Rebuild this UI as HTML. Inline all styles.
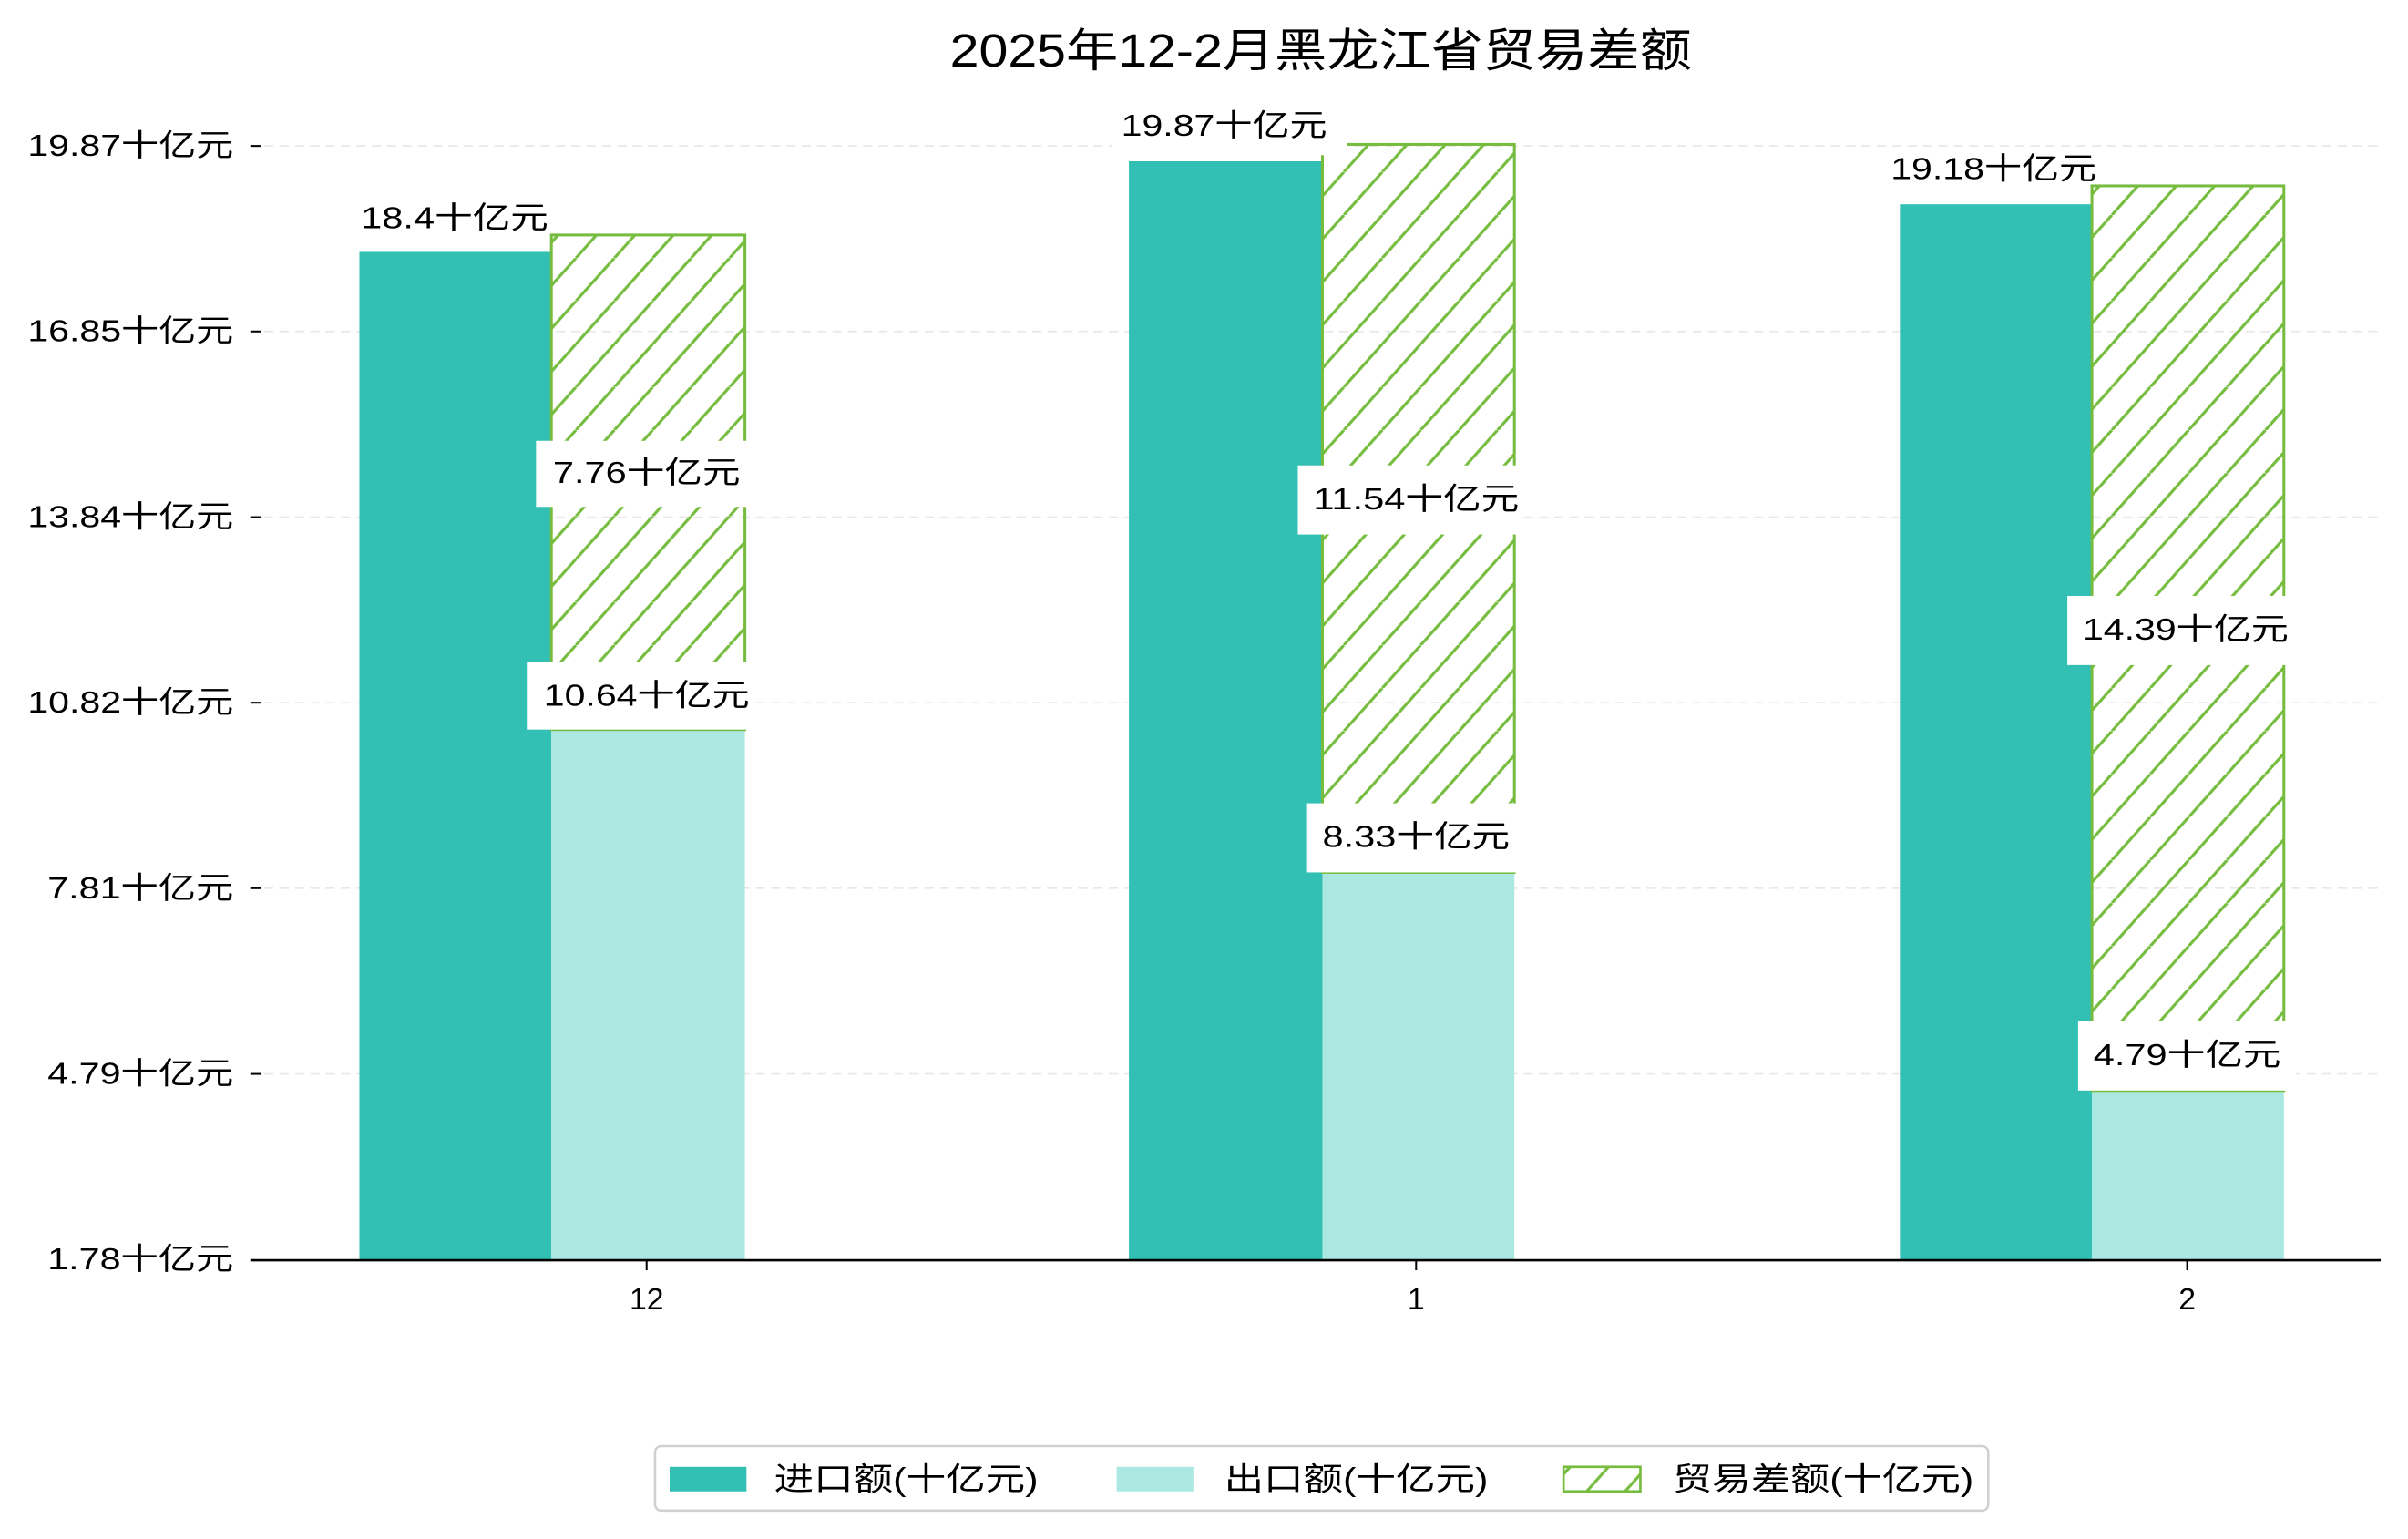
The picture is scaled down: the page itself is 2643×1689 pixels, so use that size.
<!DOCTYPE html>
<html><head><meta charset="utf-8"><style>html,body{margin:0;padding:0;background:#fff}svg{display:block}</style></head>
<body>
<svg width="2643" height="1689" viewBox="0 0 1567.8 1002" preserveAspectRatio="none" xmlns="http://www.w3.org/2000/svg" font-family="'Liberation Sans','Noto Sans CJK SC',sans-serif">
<defs>
<pattern id="h" patternUnits="userSpaceOnUse" width="25" height="28" x="0" y="0">
<line x1="-25" y1="28" x2="0" y2="0" stroke="#76BC3F" stroke-width="1.9"/>
<line x1="0" y1="28" x2="25" y2="0" stroke="#76BC3F" stroke-width="1.9"/>
<line x1="25" y1="28" x2="50" y2="0" stroke="#76BC3F" stroke-width="1.9"/>
</pattern>
</defs>
<rect width="1568" height="1002" fill="#fff"/>
<text x="860" y="33" font-size="30" text-anchor="middle" dominant-baseline="central" textLength="483" lengthAdjust="spacingAndGlyphs">2025年12-2月黑龙江省贸易差额</text>
<g stroke="#e8e8e8" stroke-width="1" stroke-dasharray="6,4">
<line x1="172" y1="95" x2="1550" y2="95"/><line x1="172" y1="215.8" x2="1550" y2="215.8"/><line x1="172" y1="336.7" x2="1550" y2="336.7"/><line x1="172" y1="457.5" x2="1550" y2="457.5"/><line x1="172" y1="578.3" x2="1550" y2="578.3"/><line x1="172" y1="699.2" x2="1550" y2="699.2"/>
</g>
<g stroke="#000" stroke-width="1.2">
<line x1="163" y1="95" x2="170" y2="95"/><line x1="163" y1="215.8" x2="170" y2="215.8"/><line x1="163" y1="336.7" x2="170" y2="336.7"/><line x1="163" y1="457.5" x2="170" y2="457.5"/><line x1="163" y1="578.3" x2="170" y2="578.3"/><line x1="163" y1="699.2" x2="170" y2="699.2"/>
</g>
<g font-size="20" text-anchor="end" dominant-baseline="central">
<text x="152" y="95" textLength="134" lengthAdjust="spacingAndGlyphs">19.87十亿元</text>
<text x="152" y="215.8" textLength="134" lengthAdjust="spacingAndGlyphs">16.85十亿元</text>
<text x="152" y="336.7" textLength="134" lengthAdjust="spacingAndGlyphs">13.84十亿元</text>
<text x="152" y="457.5" textLength="134" lengthAdjust="spacingAndGlyphs">10.82十亿元</text>
<text x="152" y="578.3" textLength="121" lengthAdjust="spacingAndGlyphs">7.81十亿元</text>
<text x="152" y="699.2" textLength="121" lengthAdjust="spacingAndGlyphs">4.79十亿元</text>
<text x="152" y="820" textLength="121" lengthAdjust="spacingAndGlyphs">1.78十亿元</text>
</g>
<rect x="234" y="164" width="125" height="656" fill="#31C0B3"/>
<rect x="359" y="475" width="126" height="345" fill="#ABE8E2"/>
<rect x="359" y="153" width="126" height="322" fill="url(#h)" stroke="#76BC3F" stroke-width="1.8"/>
<rect x="735" y="105" width="126" height="715" fill="#31C0B3"/>
<rect x="861" y="568" width="125" height="252" fill="#ABE8E2"/>
<rect x="861" y="94" width="125" height="474" fill="url(#h)" stroke="#76BC3F" stroke-width="1.8"/>
<rect x="1237" y="133" width="125" height="687" fill="#31C0B3"/>
<rect x="1362" y="710" width="125" height="110" fill="#ABE8E2"/>
<rect x="1362" y="121" width="125" height="589" fill="url(#h)" stroke="#76BC3F" stroke-width="1.8"/>
<g fill="#fff">
<rect x="349" y="287" width="141" height="43"/>
<rect x="343" y="431" width="147" height="44"/>
<rect x="724" y="66" width="153" height="35"/>
<rect x="845" y="303" width="145" height="45"/>
<rect x="851" y="523" width="139" height="45"/>
<rect x="1346" y="388" width="149" height="45"/>
<rect x="1353" y="665" width="142" height="45"/>
</g>
<g font-size="20" text-anchor="middle" dominant-baseline="central">
<text x="296" y="142" textLength="122" lengthAdjust="spacingAndGlyphs">18.4十亿元</text>
<text x="421" y="308" textLength="122" lengthAdjust="spacingAndGlyphs">7.76十亿元</text>
<text x="421" y="453" textLength="134" lengthAdjust="spacingAndGlyphs">10.64十亿元</text>
<text x="797" y="82" textLength="134" lengthAdjust="spacingAndGlyphs">19.87十亿元</text>
<text x="922" y="325" textLength="134" lengthAdjust="spacingAndGlyphs">11.54十亿元</text>
<text x="922" y="545" textLength="122" lengthAdjust="spacingAndGlyphs">8.33十亿元</text>
<text x="1298" y="110" textLength="134" lengthAdjust="spacingAndGlyphs">19.18十亿元</text>
<text x="1423" y="410" textLength="134" lengthAdjust="spacingAndGlyphs">14.39十亿元</text>
<text x="1424" y="687" textLength="122" lengthAdjust="spacingAndGlyphs">4.79十亿元</text>
</g>
<line x1="163" y1="820.5" x2="1550" y2="820.5" stroke="#000" stroke-width="1.5"/>
<g stroke="#000" stroke-width="1.2"><line x1="421" y1="820" x2="421" y2="827"/><line x1="922" y1="820" x2="922" y2="827"/><line x1="1424" y1="820" x2="1424" y2="827"/></g>
<g font-size="20" text-anchor="middle" dominant-baseline="central">
<text x="421" y="846">12</text><text x="922" y="846">1</text><text x="1424" y="846">2</text>
</g>
<rect x="426.5" y="941.5" width="868" height="42" rx="4" fill="#fff" stroke="#d0d0d0" stroke-width="1.5"/>
<rect x="436" y="955" width="50" height="16" fill="#31C0B3"/>
<rect x="727" y="955" width="50" height="16" fill="#ABE8E2"/>
<rect x="1018" y="955" width="50" height="16" fill="url(#h)" stroke="#76BC3F" stroke-width="1.6"/>
<g font-size="21" dominant-baseline="central">
<text x="504" y="963" textLength="172" lengthAdjust="spacingAndGlyphs">进口额(十亿元)</text>
<text x="797" y="963" textLength="172" lengthAdjust="spacingAndGlyphs">出口额(十亿元)</text>
<text x="1089" y="963" textLength="196" lengthAdjust="spacingAndGlyphs">贸易差额(十亿元)</text>
</g>
</svg>
</body></html>
